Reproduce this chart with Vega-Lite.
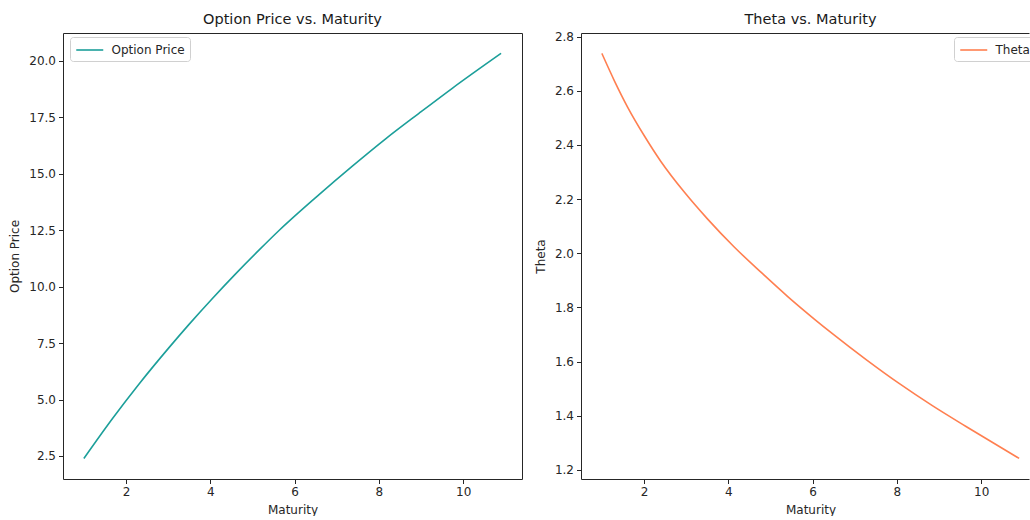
{
  "$schema": "https://vega.github.io/schema/vega-lite/v6.json",
  "padding": {"left": 8, "top": 11, "right": 0, "bottom": 0},
  "background": "white",
  "datasets": {
    "price": [
      {"Maturity": 1.0, "Option Price": 2.39},
      {"Maturity": 1.68, "Option Price": 4.16},
      {"Maturity": 2.31, "Option Price": 5.69},
      {"Maturity": 3.02, "Option Price": 7.3},
      {"Maturity": 3.49, "Option Price": 8.32},
      {"Maturity": 4.05, "Option Price": 9.48},
      {"Maturity": 4.6, "Option Price": 10.57},
      {"Maturity": 5.16, "Option Price": 11.63},
      {"Maturity": 5.63, "Option Price": 12.49},
      {"Maturity": 6.58, "Option Price": 14.08},
      {"Maturity": 7.37, "Option Price": 15.34},
      {"Maturity": 8.16, "Option Price": 16.55},
      {"Maturity": 8.95, "Option Price": 17.68},
      {"Maturity": 9.74, "Option Price": 18.79},
      {"Maturity": 10.9, "Option Price": 20.34}
    ],
    "theta": [
      {"Maturity": 1.0, "Theta": 2.738},
      {"Maturity": 1.3, "Theta": 2.636},
      {"Maturity": 1.61, "Theta": 2.54},
      {"Maturity": 2.01, "Theta": 2.433},
      {"Maturity": 2.4, "Theta": 2.339},
      {"Maturity": 2.96, "Theta": 2.225},
      {"Maturity": 3.51, "Theta": 2.126},
      {"Maturity": 4.14, "Theta": 2.023},
      {"Maturity": 4.78, "Theta": 1.929},
      {"Maturity": 5.41, "Theta": 1.84},
      {"Maturity": 6.04, "Theta": 1.757},
      {"Maturity": 6.47, "Theta": 1.703},
      {"Maturity": 7.27, "Theta": 1.607},
      {"Maturity": 8.06, "Theta": 1.518},
      {"Maturity": 8.85, "Theta": 1.436},
      {"Maturity": 9.64, "Theta": 1.36},
      {"Maturity": 10.9, "Theta": 1.242}
    ]
  },
  "spacing": 59,
  "bounds": "flush",
  "hconcat": [
    {
      "width": 459,
      "height": 446,
      "title": {"text": "Option Price vs. Maturity"},
      "data": {"name": "price"},
      "mark": {"type": "line", "strokeWidth": 1.6, "interpolate": "monotone"},
      "encoding": {
        "x": {
          "field": "Maturity", "type": "quantitative",
          "scale": {"domain": [0.505, 11.395], "nice": false, "zero": false},
          "axis": {"title": "Maturity", "values": [2, 4, 6, 8, 10], "format": "d"}
        },
        "y": {
          "field": "Option Price", "type": "quantitative",
          "scale": {"domain": [1.48, 21.24], "nice": false, "zero": false},
          "axis": {"title": "Option Price", "values": [2.5, 5, 7.5, 10, 12.5, 15, 17.5, 20], "format": ".1f"}
        },
        "color": {
          "datum": "Option Price",
          "scale": {"domain": ["Option Price"], "range": ["#1c9f9a"]},
          "legend": {"orient": "none", "legendX": 7, "legendY": 4}
        }
      }
    },
    {
      "width": 448,
      "height": 446,
      "title": {"text": "Theta vs. Maturity", "dx": 5.5, "offset": 3},
      "data": {"name": "theta"},
      "view": {"stroke": null},
      "layer": [
        {
          "mark": {"type": "line", "strokeWidth": 1.6, "interpolate": "monotone"},
          "encoding": {
            "x": {
              "field": "Maturity", "type": "quantitative",
              "scale": {"domain": [0.505, 11.134], "nice": false, "zero": false},
              "axis": {"title": "Maturity", "values": [2, 4, 6, 8, 10], "format": "d", "domain": true, "titleX": 229.5}
            },
            "y": {
              "field": "Theta", "type": "quantitative",
              "scale": {"domain": [1.166, 2.8135], "nice": false, "zero": false},
              "axis": {"title": "Theta", "values": [1.2, 1.4, 1.6, 1.8, 2.0, 2.2, 2.4, 2.6, 2.8], "format": ".1f", "domain": true}
            },
            "color": {
              "datum": "Theta",
              "scale": {"domain": ["Theta"], "range": ["#ff7f50"]},
              "legend": {"orient": "none", "legendX": 373, "legendY": 4}
            }
          }
        },
        {
          "mark": {"type": "line", "strokeOpacity": 0},
          "encoding": {
            "x": {
              "field": "Maturity", "type": "quantitative",
              "axis": {"orient": "top", "labels": false, "ticks": false, "title": null, "domain": true}
            }
          }
        }
      ],
      "resolve": {"axis": {"x": "independent"}}
    }
  ],
  "resolve": {"scale": {"color": "independent"}},
  "config": {
    "font": "DejaVu Sans",
    "view": {"stroke": "#262626", "strokeWidth": 1},
    "title": {"fontSize": 14.5, "fontWeight": "normal", "color": "#1a1a1a", "offset": 6, "anchor": "middle"},
    "axis": {
      "domain": false,
      "domainColor": "#262626",
      "domainWidth": 1,
      "grid": false,
      "ticks": true,
      "tickColor": "#262626",
      "tickSize": 4.5,
      "tickWidth": 1,
      "labelFontSize": 12,
      "labelColor": "#262626",
      "labelPadding": 3,
      "titleFontSize": 12,
      "titleFontWeight": "normal",
      "titleColor": "#262626",
      "titlePadding": 7
    },
    "legend": {
      "title": null,
      "symbolType": "M-1,0H3",
      "symbolSize": 182.25,
      "symbolStrokeWidth": 1.6,
      "labelFontSize": 12,
      "labelColor": "#262626",
      "labelOffset": 20.5,
      "strokeColor": "#d0d0d0",
      "fillColor": "rgba(255,255,255,0.85)",
      "cornerRadius": 3,
      "padding": 5
    }
  }
}
